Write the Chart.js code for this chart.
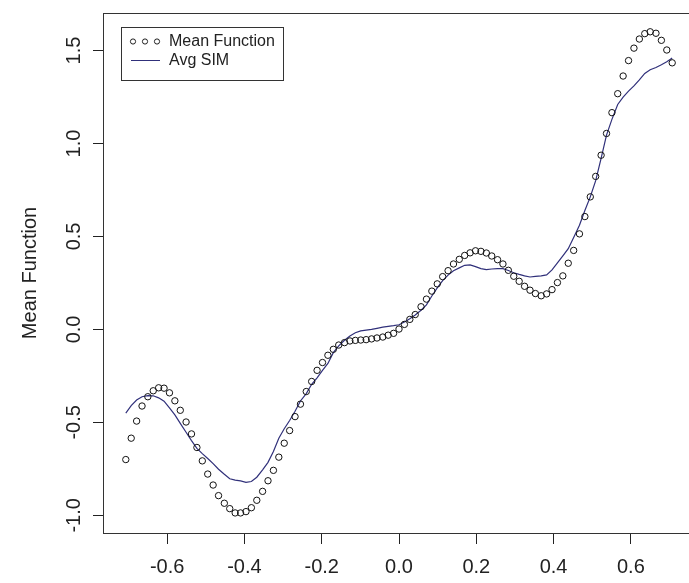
<!DOCTYPE html>
<html>
<head>
<meta charset="utf-8">
<title>Mean Function vs Avg SIM</title>
<script src="https://cdn.jsdelivr.net/npm/chart.js@4.4.1/dist/chart.umd.min.js"></script>
<style>
  html, body { margin: 0; padding: 0; background: #fff; overflow: hidden; }
  canvas { display: block; }
</style>
</head>
<body>
<canvas id="meanChart" width="700" height="583"></canvas>
<script>
// x grid of the evaluation points (101 points)
const xValues = [
  -0.707, -0.693, -0.679, -0.665, -0.650, -0.636, -0.622, -0.608, -0.594, -0.580,
  -0.566, -0.551, -0.537, -0.523, -0.509, -0.495, -0.481, -0.467, -0.452, -0.438,
  -0.424, -0.410, -0.396, -0.382, -0.368, -0.353, -0.339, -0.325, -0.311, -0.297,
  -0.283, -0.269, -0.255, -0.240, -0.226, -0.212, -0.198, -0.184, -0.170, -0.156,
  -0.141, -0.127, -0.113, -0.099, -0.085, -0.071, -0.057, -0.042, -0.028, -0.014,
   0.000,  0.014,  0.028,  0.042,  0.057,  0.071,  0.085,  0.099,  0.113,  0.127,
   0.141,  0.156,  0.170,  0.184,  0.198,  0.212,  0.226,  0.240,  0.255,  0.269,
   0.283,  0.297,  0.311,  0.325,  0.339,  0.353,  0.368,  0.382,  0.396,  0.410,
   0.424,  0.438,  0.452,  0.467,  0.481,  0.495,  0.509,  0.523,  0.537,  0.551,
   0.566,  0.580,  0.594,  0.608,  0.622,  0.636,  0.650,  0.665,  0.679,  0.693,
   0.707
];

// circles: "Mean Function"
const meanFunction = [
  -0.700, -0.585, -0.493, -0.412, -0.362, -0.330, -0.314, -0.316, -0.341, -0.384,
  -0.435, -0.498, -0.562, -0.635, -0.707, -0.778, -0.837, -0.894, -0.935, -0.964,
  -0.987, -0.987, -0.980, -0.959, -0.919, -0.871, -0.814, -0.758, -0.687, -0.612,
  -0.544, -0.469, -0.402, -0.334, -0.280, -0.220, -0.178, -0.139, -0.107, -0.084,
  -0.071, -0.062, -0.059, -0.057, -0.055, -0.051, -0.046, -0.041, -0.031, -0.021,
   0.002,  0.027,  0.054,  0.080,  0.122,  0.163,  0.206,  0.245,  0.284,  0.316,
   0.352,  0.377,  0.398,  0.412,  0.423,  0.420,  0.411,  0.395,  0.375,  0.352,
   0.318,  0.286,  0.259,  0.232,  0.211,  0.193,  0.181,  0.191,  0.214,  0.252,
   0.288,  0.356,  0.425,  0.514,  0.607,  0.713,  0.823,  0.937,  1.054,  1.166,
   1.268,  1.363,  1.446,  1.513,  1.562,  1.591,  1.601,  1.593,  1.555,  1.503,
   1.434
];

// line: "Avg SIM"
const avgSim = [
  -0.450, -0.410, -0.380, -0.362, -0.356, -0.357, -0.368, -0.386, -0.422, -0.460,
  -0.505, -0.553, -0.598, -0.640, -0.668, -0.694, -0.722, -0.752, -0.779, -0.803,
  -0.811, -0.815, -0.823, -0.818, -0.795, -0.755, -0.715, -0.657, -0.585, -0.534,
  -0.490, -0.440, -0.385, -0.345, -0.295, -0.260, -0.220, -0.183, -0.125, -0.088,
  -0.058, -0.035, -0.018, -0.008, -0.004,  0.000,  0.006,  0.012,  0.016,  0.020,
   0.025,  0.040,  0.058,  0.078,  0.103,  0.132,  0.180,  0.223,  0.263,  0.292,
   0.316,  0.331,  0.345,  0.347,  0.338,  0.327,  0.322,  0.325,  0.327,  0.327,
   0.317,  0.305,  0.296,  0.288,  0.282,  0.285,  0.288,  0.293,  0.320,  0.358,
   0.396,  0.434,  0.494,  0.560,  0.640,  0.713,  0.800,  0.920,  1.045,  1.130,
   1.210,  1.250,  1.282,  1.310,  1.342,  1.377,  1.397,  1.409,  1.424,  1.440,
   1.460
];

const xTicks = [-0.6, -0.4, -0.2, 0.0, 0.2, 0.4, 0.6];
const yTicks = [-1.0, -0.5, 0.0, 0.5, 1.0, 1.5];

const FONT = "'Liberation Sans', Arial, sans-serif";
const LINE_COLOR = '#30307a';

// box round the plot region plus the R style legend
const framePlugin = {
  id: 'frame',
  afterDraw(chart) {
    const { ctx, chartArea } = chart;
    ctx.save();
    ctx.strokeStyle = '#333';
    ctx.lineWidth = 1;
    ctx.strokeRect(Math.round(chartArea.left) + 0.5, Math.round(chartArea.top) + 0.5,
      Math.round(chartArea.right - chartArea.left), Math.round(chartArea.bottom - chartArea.top));

    // legend
    ctx.fillStyle = '#fff';
    ctx.fillRect(121.5, 27.5, 162, 53);
    ctx.strokeRect(121.5, 27.5, 162, 53);
    ctx.strokeStyle = '#222';
    [133, 145, 157].forEach(cx => {
      ctx.beginPath();
      ctx.arc(cx, 41.5, 2.6, 0, Math.PI * 2);
      ctx.stroke();
    });
    ctx.strokeStyle = LINE_COLOR;
    ctx.beginPath();
    ctx.moveTo(131, 60.5);
    ctx.lineTo(160, 60.5);
    ctx.stroke();
    ctx.fillStyle = '#222';
    ctx.font = '16px ' + FONT;
    ctx.textBaseline = 'middle';
    ctx.fillText(chart.data.datasets[0].label, 169, 42);
    ctx.fillText(chart.data.datasets[1].label, 169, 61);
    ctx.restore();
  }
};

new Chart(document.getElementById('meanChart'), {
  type: 'scatter',
  data: {
    datasets: [
      {
        label: 'Mean Function',
        data: xValues.map((x, i) => ({ x: x, y: meanFunction[i] })),
        pointStyle: 'circle',
        pointRadius: 3.2,
        pointBorderWidth: 1,
        pointBorderColor: '#111',
        pointBackgroundColor: 'rgba(0,0,0,0)',
        showLine: false
      },
      {
        label: 'Avg SIM',
        data: xValues.map((x, i) => ({ x: x, y: avgSim[i] })),
        showLine: true,
        borderColor: LINE_COLOR,
        borderWidth: 1.2,
        pointRadius: 0,
        tension: 0
      }
    ]
  },
  options: {
    responsive: false,
    animation: false,
    devicePixelRatio: 1,
    layout: { padding: { top: 10, right: 1, left: 0, bottom: 0 } },
    plugins: {
      legend: { display: false },
      tooltip: { enabled: false }
    },
    scales: {
      x: {
        type: 'linear',
        min: -0.766,
        max: 0.766,
        afterBuildTicks: scale => { scale.ticks = xTicks.map(v => ({ value: v })); },
        afterFit: scale => { scale.height = 50; },
        grid: { drawOnChartArea: false, drawTicks: true, tickLength: 11, color: '#222' },
        border: { display: true, color: '#333' },
        ticks: {
          font: { family: FONT, size: 20 },
          color: '#222',
          padding: 11,
          maxRotation: 0,
          autoSkip: false,
          callback: v => v.toFixed(1)
        }
      },
      y: {
        type: 'linear',
        min: -1.095,
        max: 1.702,
        afterBuildTicks: scale => { scale.ticks = yTicks.map(v => ({ value: v })); },
        afterFit: scale => { scale.width = 103; },
        grid: { drawOnChartArea: false, drawTicks: true, tickLength: 10, color: '#222' },
        border: { display: true, color: '#333' },
        title: {
          display: true,
          text: 'Mean Function',
          font: { family: FONT, size: 20 },
          color: '#222',
          padding: { top: 18, bottom: 0 }
        },
        ticks: {
          font: { family: FONT, size: 20 },
          color: '#222',
          padding: 1,
          minRotation: 90,
          maxRotation: 90,
          crossAlign: 'center',
          autoSkip: false,
          callback: v => v.toFixed(1)
        }
      }
    }
  },
  plugins: [framePlugin]
});
</script>
</body>
</html>
